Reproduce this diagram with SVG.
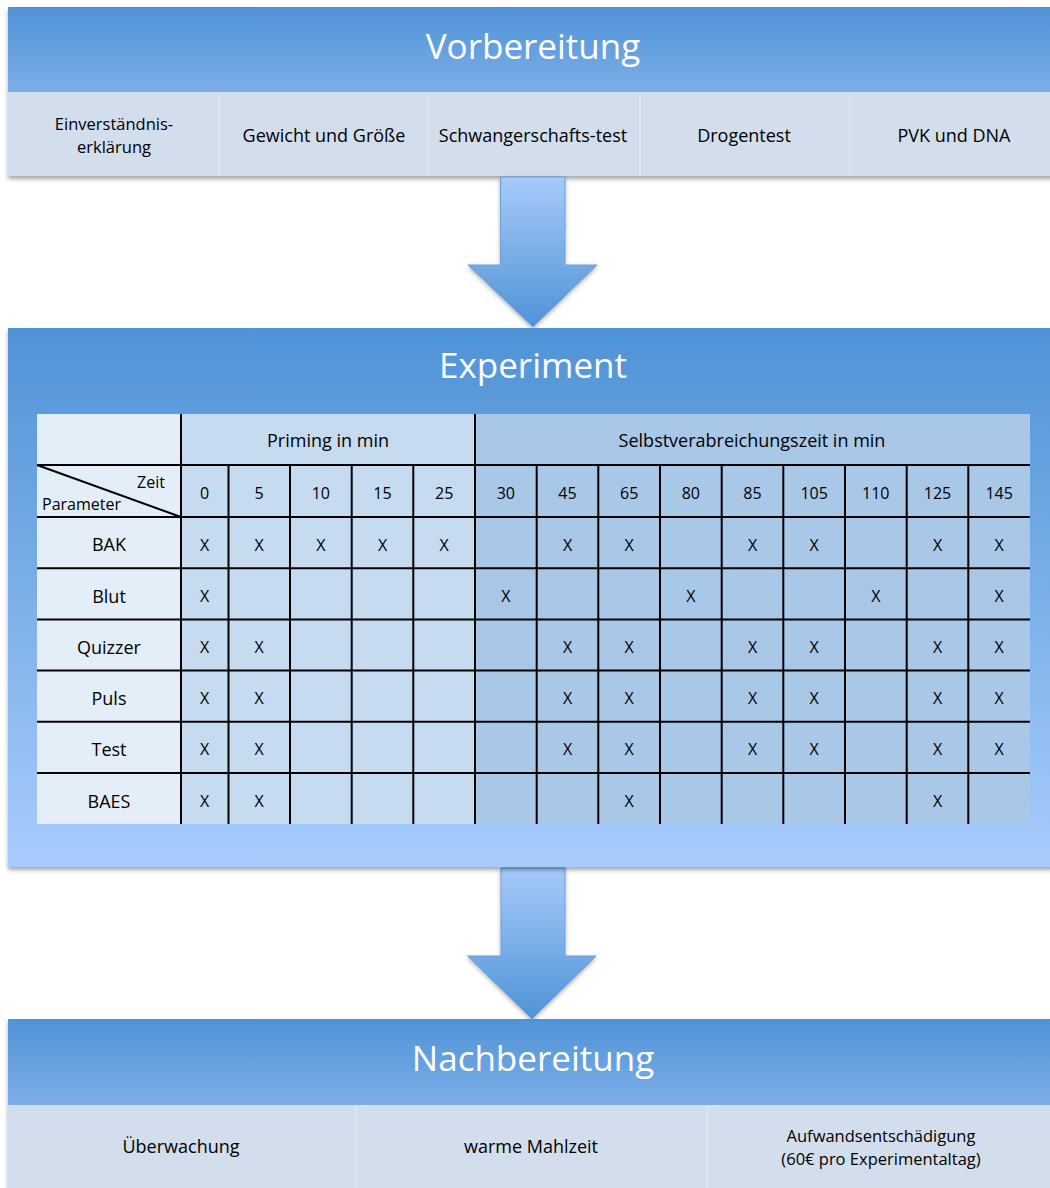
<svg xmlns="http://www.w3.org/2000/svg" width="1050" height="1188" viewBox="0 0 1050 1188">
<defs>
<linearGradient id="hdr" x1="0" y1="0" x2="0" y2="1">
<stop offset="0" stop-color="#4F93D6"/>
<stop offset="1" stop-color="#7DAEE9"/>
</linearGradient>
<linearGradient id="exp" x1="0" y1="0" x2="0" y2="1">
<stop offset="0" stop-color="#4F93D6"/>
<stop offset="1" stop-color="#A8CCFC"/>
</linearGradient>
<linearGradient id="arr" x1="0" y1="0" x2="0" y2="1">
<stop offset="0" stop-color="#A6CAFB"/>
<stop offset="1" stop-color="#4F93D6"/>
</linearGradient>
<filter id="sh" x="-5%" y="-5%" width="110%" height="115%">
<feDropShadow dx="0" dy="3" stdDeviation="2" flood-color="#000" flood-opacity="0.35"/>
</filter>
<filter id="ash" x="-20%" y="-10%" width="140%" height="130%">
<feDropShadow dx="0" dy="2" stdDeviation="2" flood-color="#000" flood-opacity="0.3"/>
</filter>
</defs>
<style>
text{font-family:"Open Sans","Noto Sans","Liberation Sans",sans-serif;fill:#000;}
.title{font-size:35px;fill:#fff;text-anchor:middle;}
.item{font-size:18px;text-anchor:middle;}
.item2{font-size:16.5px;text-anchor:middle;}
.t{font-size:16px;text-anchor:middle;}
.l{font-size:18px;text-anchor:middle;}
.row{fill:#D3DEED;}
.div{stroke:#DCE4EF;stroke-width:2;}
.g{stroke:#000;stroke-width:2;fill:none;}
.arrow{fill:url(#arr);stroke:#6C9FD6;stroke-width:1;}
</style>

<g id="vorbereitung">
<g filter="url(#sh)">
<rect x="8" y="7" width="1052" height="85" fill="url(#hdr)"/>
<rect class="row" x="8" y="92" width="1052" height="84"/>
</g>
<line class="div" x1="219" y1="93" x2="219" y2="176"/>
<line class="div" x1="428" y1="93" x2="428" y2="176"/>
<line class="div" x1="640" y1="93" x2="640" y2="176"/>
<line class="div" x1="850" y1="93" x2="850" y2="176"/>
<text class="title" x="533" y="59">Vorbereitung</text>
<text class="item2" x="114" y="130">Einverständnis-</text>
<text class="item2" x="114" y="153">erklärung</text>
<text class="item" x="324" y="142">Gewicht und Größe</text>
<text class="item" x="533" y="142">Schwangerschafts-test</text>
<text class="item" x="744" y="142">Drogentest</text>
<text class="item" x="954" y="142">PVK und DNA</text>
</g>

<g id="connectors">
<path class="arrow" filter="url(#ash)" d="M500.5,177 H565 V265 H597 L533,327 L468,265 H500.5 Z"/>
<path class="arrow" filter="url(#ash)" d="M501,868 H565 V956 H596 L532,1019 L467.5,956 H501 Z"/>
</g>

<g id="experiment">
<rect x="8" y="328" width="1052" height="539" fill="url(#exp)" filter="url(#sh)"/>
<text class="title" x="533" y="378">Experiment</text>
<g id="table">
<rect x="37" y="414" width="144" height="410" fill="#E3EEF9"/>
<rect x="181" y="414" width="294" height="410" fill="#C6DBF0"/>
<rect x="475" y="414" width="555" height="410" fill="#A9C8E8"/>
<g class="g">
<line x1="37" y1="465" x2="1030" y2="465"/>
<line x1="37" y1="517" x2="1030" y2="517"/>
<line x1="37" y1="568.2" x2="1030" y2="568.2"/>
<line x1="37" y1="619.4" x2="1030" y2="619.4"/>
<line x1="37" y1="670.6" x2="1030" y2="670.6"/>
<line x1="37" y1="721.8" x2="1030" y2="721.8"/>
<line x1="37" y1="773" x2="1030" y2="773"/>
<line x1="181" y1="414" x2="181" y2="824"/>
<line x1="475" y1="414" x2="475" y2="824"/>
<line x1="228.5" y1="465" x2="228.5" y2="824"/>
<line x1="290" y1="465" x2="290" y2="824"/>
<line x1="351.7" y1="465" x2="351.7" y2="824"/>
<line x1="413.3" y1="465" x2="413.3" y2="824"/>
<line x1="536.7" y1="465" x2="536.7" y2="824"/>
<line x1="598.3" y1="465" x2="598.3" y2="824"/>
<line x1="660" y1="465" x2="660" y2="824"/>
<line x1="721.7" y1="465" x2="721.7" y2="824"/>
<line x1="783.3" y1="465" x2="783.3" y2="824"/>
<line x1="845" y1="465" x2="845" y2="824"/>
<line x1="906.7" y1="465" x2="906.7" y2="824"/>
<line x1="968.3" y1="465" x2="968.3" y2="824"/>
<line x1="37" y1="465" x2="181" y2="517"/>
</g>
<text class="l" x="328" y="447">Priming in min</text>
<text class="l" x="752" y="447">Selbstverabreichungszeit in min</text>
<text class="t" x="165" y="488" style="text-anchor:end">Zeit</text>
<text class="t" x="42" y="510" style="text-anchor:start">Parameter</text>
<g id="colheads">
<text class="t" x="204.7" y="499">0</text>
<text class="t" x="259.2" y="499">5</text>
<text class="t" x="320.8" y="499">10</text>
<text class="t" x="382.5" y="499">15</text>
<text class="t" x="444.2" y="499">25</text>
<text class="t" x="505.8" y="499">30</text>
<text class="t" x="567.5" y="499">45</text>
<text class="t" x="629.2" y="499">65</text>
<text class="t" x="690.8" y="499">80</text>
<text class="t" x="752.5" y="499">85</text>
<text class="t" x="814.2" y="499">105</text>
<text class="t" x="875.8" y="499">110</text>
<text class="t" x="937.5" y="499">125</text>
<text class="t" x="999.2" y="499">145</text>
</g>
<g id="rowlabels">
<text class="l" x="109" y="551">BAK</text>
<text class="l" x="109" y="603">Blut</text>
<text class="l" x="109" y="654">Quizzer</text>
<text class="l" x="109" y="705">Puls</text>
<text class="l" x="109" y="756">Test</text>
<text class="l" x="109" y="808">BAES</text>
</g>
<g id="marks">
<text class="t" x="204.7" y="551">X</text><text class="t" x="259.2" y="551">X</text><text class="t" x="320.8" y="551">X</text><text class="t" x="382.5" y="551">X</text><text class="t" x="444.2" y="551">X</text><text class="t" x="567.5" y="551">X</text><text class="t" x="629.2" y="551">X</text><text class="t" x="752.5" y="551">X</text><text class="t" x="814.2" y="551">X</text><text class="t" x="937.5" y="551">X</text><text class="t" x="999.2" y="551">X</text>
<text class="t" x="204.7" y="602">X</text><text class="t" x="505.8" y="602">X</text><text class="t" x="690.8" y="602">X</text><text class="t" x="875.8" y="602">X</text><text class="t" x="999.2" y="602">X</text>
<text class="t" x="204.7" y="653">X</text><text class="t" x="259.2" y="653">X</text><text class="t" x="567.5" y="653">X</text><text class="t" x="629.2" y="653">X</text><text class="t" x="752.5" y="653">X</text><text class="t" x="814.2" y="653">X</text><text class="t" x="937.5" y="653">X</text><text class="t" x="999.2" y="653">X</text>
<text class="t" x="204.7" y="704">X</text><text class="t" x="259.2" y="704">X</text><text class="t" x="567.5" y="704">X</text><text class="t" x="629.2" y="704">X</text><text class="t" x="752.5" y="704">X</text><text class="t" x="814.2" y="704">X</text><text class="t" x="937.5" y="704">X</text><text class="t" x="999.2" y="704">X</text>
<text class="t" x="204.7" y="755">X</text><text class="t" x="259.2" y="755">X</text><text class="t" x="567.5" y="755">X</text><text class="t" x="629.2" y="755">X</text><text class="t" x="752.5" y="755">X</text><text class="t" x="814.2" y="755">X</text><text class="t" x="937.5" y="755">X</text><text class="t" x="999.2" y="755">X</text>
<text class="t" x="204.7" y="807">X</text><text class="t" x="259.2" y="807">X</text><text class="t" x="629.2" y="807">X</text><text class="t" x="937.5" y="807">X</text>
</g>
</g>
</g>

<g id="nachbereitung">
<g filter="url(#sh)">
<rect x="8" y="1019" width="1052" height="86" fill="url(#hdr)"/>
<rect class="row" x="8" y="1105" width="1052" height="90"/>
</g>
<line class="div" x1="356" y1="1106" x2="356" y2="1188"/>
<line class="div" x1="707" y1="1106" x2="707" y2="1188"/>
<text class="title" x="533" y="1071">Nachbereitung</text>
<text class="item" x="181" y="1153">Überwachung</text>
<text class="item" x="531" y="1153">warme Mahlzeit</text>
<text class="item2" x="881" y="1142">Aufwandsentschädigung</text>
<text class="item2" x="881" y="1165">(60€ pro Experimentaltag)</text>
</g>
</svg>
